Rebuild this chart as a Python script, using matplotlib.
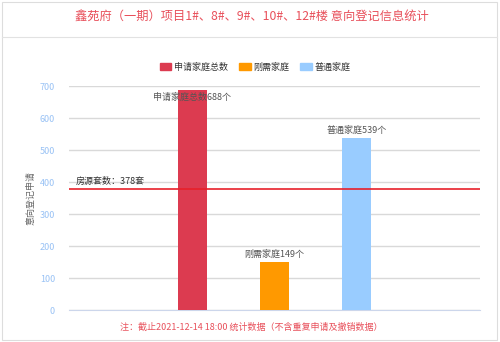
import numpy as np
import matplotlib
matplotlib.use("Agg")
import matplotlib.pyplot as plt
from matplotlib.patches import Rectangle
from matplotlib.lines import Line2D

plt.rcParams["font.family"] = ["Noto Sans CJK SC", "DejaVu Sans"]

TITLE = "鑫苑府（一期）项目1#、8#、9#、10#、12#楼 意向登记信息统计"
SERIES = ["申请家庭总数", "刚需家庭", "普通家庭"]
VALUES = [688, 149, 539]
COLORS = ["#dc3b50", "#ff9900", "#99ccff"]
HOUSING = 378
HOUSING_LABEL = "房源套数：378套"
Y_LABEL = "意向登记申请"
NOTE = "注：截止2021-12-14 18:00 统计数据（不含重复申请及撤销数据）"

fig = plt.figure(figsize=(5.0, 3.42), dpi=100)
fig.patches.append(Rectangle((0.004, 0.006), 0.99, 0.988, transform=fig.transFigure,
                             fill=False, edgecolor="#dddddd", lw=0.8))
fig.add_artist(Line2D([0.004, 0.994], [1 - 37 / 342, 1 - 37 / 342], transform=fig.transFigure,
                      color="#e2e2e2", lw=0.8))
fig.text(0.504, 1 - 16 / 342, TITLE, ha="center", va="center", fontsize=8.8, color="#e8505b")

ax = fig.add_axes([69 / 500, 1 - 310 / 342, 411 / 500, 224 / 342])
x = np.arange(len(SERIES)) + 1
ax.bar(x, VALUES, width=0.36, color=COLORS, zorder=3)
ax.set_xlim(-0.5, len(SERIES) + 1.5)
ax.set_ylim(0, 700)
ax.set_yticks(np.arange(0, 701, 100))
ax.grid(axis="y", color="#d9d9d9", lw=1, zorder=0)
for s in ["top", "right", "left"]:
    ax.spines[s].set_visible(False)
ax.spines["bottom"].set_color("#ccd6eb")
ax.set_xticks([])
ax.tick_params(axis="y", length=0, pad=10, labelsize=6.5, labelcolor="#99c2f5")
ax.set_ylabel(Y_LABEL, fontsize=6.5, color="#666666", labelpad=3)

for xi, v, name in zip(x, VALUES, SERIES):
    ax.text(xi, min(v + 24, 665), f"{name}{v}个", ha="center", va="center",
            fontsize=6.5, color="#555555", zorder=4)

ax.axhline(HOUSING, color="#e8202a", lw=1.2, zorder=4)
ax.text(-0.42, HOUSING + 10, HOUSING_LABEL, ha="left", va="bottom", fontsize=6.5,
        color="#333333", zorder=4)

handles = [Rectangle((0, 0), 1, 1, color=c) for c in COLORS]
fig.legend(handles, SERIES, loc="center", bbox_to_anchor=(0.51, 1 - 67 / 342), ncol=3,
           frameon=False, fontsize=6.5, handlelength=1.3, handleheight=0.8,
           handletextpad=0.3, columnspacing=1.2, labelcolor="#333333")

fig.text(0.502, 1 - 327 / 342, NOTE, ha="center", va="center", fontsize=6.5, color="#e8505b")

fig.savefig("out.png", dpi=100)
